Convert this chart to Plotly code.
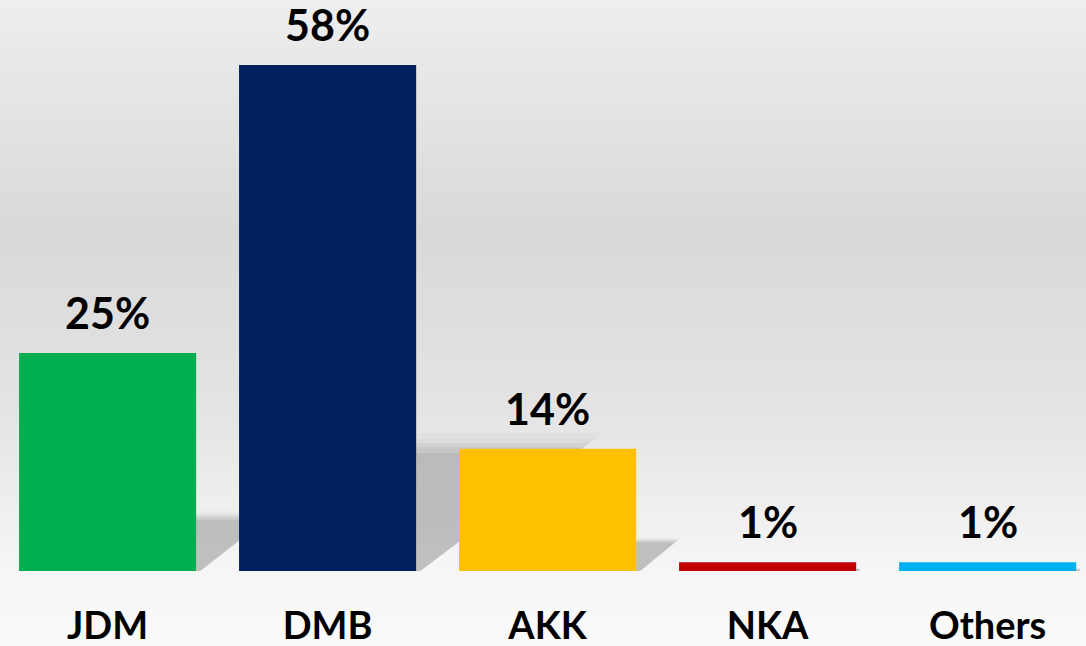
import plotly.graph_objects as go

categories = ["JDM", "DMB", "AKK", "NKA", "Others"]
values = [25, 58, 14, 1, 1]
colors = ["#00B050", "#002060", "#FFC000", "#C00000", "#00B0F0"]
labels = [f"{v}%" for v in values]

W, H = 1086, 646
ML, MR, MT, MB = 0, 0, 0, 75
X_RANGE = [-0.489, 4.447]
Y_RANGE = [0, 65.45]
BAR_HALF = 0.4025

# background gradient stops (fraction from top of figure, gray level)
grad_stops = [(0.0, 0xEE), (230 / H, 0xD9), (400 / H, 0xE3), (500 / H, 0xEE), (571 / H, 0xF6), (1.0, 0xFA)]


def gray_at(f):
    for (f0, g0), (f1, g1) in zip(grad_stops[:-1], grad_stops[1:]):
        if f0 <= f <= f1:
            t = (f - f0) / (f1 - f0) if f1 > f0 else 0
            return round(g0 + (g1 - g0) * t)
    return grad_stops[-1][1]


shapes = []
band = 4
plot_h = H - MT - MB
for top in range(0, H, band):
    g = gray_at((top + band / 2) / H)
    c = f"rgb({g},{g},{g})"
    y0 = (H - MB - top) / plot_h
    y1 = (H - MB - top - band - 1) / plot_h
    shapes.append(dict(type="rect", xref="paper", yref="paper", x0=-0.01, x1=1.01,
                       y0=y1, y1=y0, fillcolor=c, line=dict(width=0), layer="below"))

# soft perspective shadows derived from each bar's value
for i, v in enumerate(values):
    xr = i + BAR_HALF
    for grow, op in [(1.14, 0.06), (1.09, 0.08), (1.05, 0.12), (1.02, 0.16), (0.97, 0.22)]:
        h = 0.24 * v * grow
        d = 0.01286 * v * grow
        path = f"M {xr},0 L {xr},{h} L {xr + d},{h} L {xr + 0.018 * grow},0 Z"
        shapes.append(dict(type="path", xref="x", yref="y", path=path,
                           fillcolor=f"rgba(140,140,140,{op})", line=dict(width=0), layer="below"))

fig = go.Figure()
fig.add_trace(go.Bar(
    x=list(range(len(categories))), y=values,
    marker=dict(color=colors, line=dict(width=0)),
    width=2 * BAR_HALF, hoverinfo="skip",
))

annotations = []
for i, (v, t) in enumerate(zip(values, labels)):
    annotations.append(dict(x=i, y=v, xref="x", yref="y", text=f"<b>{t}</b>", showarrow=False,
                            yanchor="bottom", yshift=13,
                            font=dict(family="Lato", size=43, color="#000000")))

fig.update_layout(
    width=W, height=H,
    margin=dict(l=ML, r=MR, t=MT, b=MB, pad=0),
    paper_bgcolor="#FAFAFA", plot_bgcolor="rgba(0,0,0,0)",
    showlegend=False,
    shapes=shapes, annotations=annotations,
    xaxis=dict(range=X_RANGE, tickvals=list(range(len(categories))),
               ticktext=[f"<b>{c}</b>" for c in categories],
               showgrid=False, zeroline=False, showline=False, ticks="",
               ticklabelstandoff=29,
               tickfont=dict(family="Lato", size=38, color="#000000")),
    yaxis=dict(range=Y_RANGE, visible=False, showgrid=False, zeroline=False),
)

fig.write_html("out.html", config={"displayModeBar": False},
               post_script="document.body.style.margin='0';document.body.style.overflow='hidden';")
